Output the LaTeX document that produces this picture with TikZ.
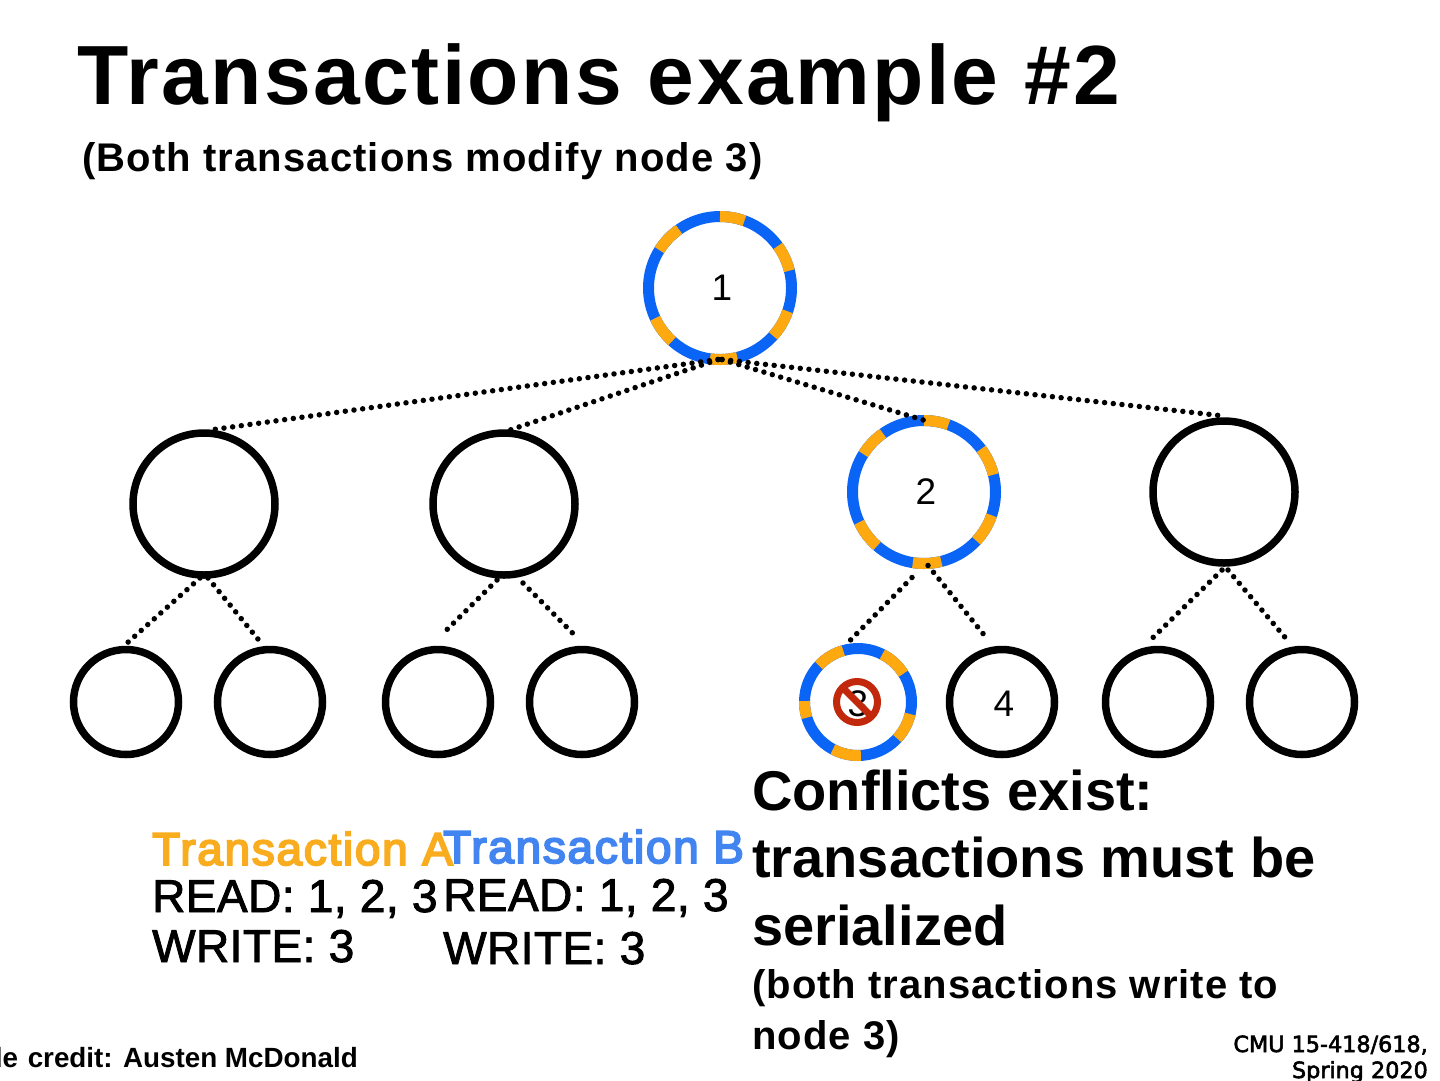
\documentclass[tikz,border=0pt]{standalone}
\usepackage{fontspec}
\setmainfont{Liberation Sans}
\newfontfamily\cmufont[FakeBold=2.5]{DejaVu Sans}
\definecolor{ringblue}{HTML}{0A64F5}
\definecolor{ringorange}{HTML}{FDA90F}
\definecolor{txta}{HTML}{F9AD1E}
\definecolor{txtb}{HTML}{4285F0}
\definecolor{nored}{HTML}{C1280C}
\newcommand{\fsz}[1]{\fontsize{#1}{#1}\selectfont}
\newcommand{\spc}[1]{\addfontfeature{LetterSpace=#1}}
\newcommand{\spb}[1]{\addfontfeature{LetterSpace=#1,FakeBold=2}}
\newcommand{\spt}[1]{\addfontfeature{LetterSpace=#1,FakeBold=4}}
\tikzset{
  bigc/.style={circle,draw=black,line width=7.5pt,outer sep=0pt,minimum size=142pt,inner sep=0pt},
  smallc/.style={circle,draw=black,line width=7.5pt,outer sep=0pt,minimum size=105pt,inner sep=0pt},
  ringc/.style={circle,draw=ringblue,line width=11pt,outer sep=0pt,inner sep=0pt},
  dotline/.style={line width=5.5pt,line cap=round,dash pattern=on 0pt off 8.75pt},
  lbl/.style={inner sep=0pt,anchor=center,font=\fsz{37}},
  txt/.style={inner sep=0pt,anchor=base west},
  orarc/.style={ringorange,line width=11pt,x=1pt,y=1pt},
}
\begin{document}
\begin{tikzpicture}[x=1pt,y=-1pt]
\useasboundingbox (0,0) rectangle (1440,1080);
\fill[white] (0,0) rectangle (1440,1080);
% nodes
\node[ringc,minimum size=143pt] (r1) at (720,288) {};
\node[ringc,minimum size=143pt] (r2) at (924,492) {};
\node[ringc,minimum size=107pt] (r3) at (858,702) {};
\node[bigc] (b1) at (204,504) {};
\node[bigc] (b2) at (504,504) {};
\node[bigc] (b4) at (1224,492) {};
\node[smallc] (s1) at (126,702) {};
\node[smallc] (s2) at (270,702) {};
\node[smallc] (s3) at (438,702) {};
\node[smallc] (s4) at (582,702) {};
\node[smallc] (s6) at (1002,702) {};
\node[smallc] (s7) at (1158,702) {};
\node[smallc] (s8) at (1302,702) {};
% orange ring segments
\foreach \c/\rr/\list in {r1/71.5/{70/90,14/36,-42/-19,-98/-76,-155/-132,125/148},
                          r2/71.5/{70/90,14/37,-43/-19,-99/-76,-155/-131,125/148},
                          r3/53.5/{32/63,-43/-13,-118/-87,-181/-163,106/137}}{
  \foreach \a/\b in \list {
    \draw[orarc] (\c.center) ++(\a:\rr) arc[start angle=\a,end angle=\b,radius=\rr];
  }
}
% connectors
\draw[dotline] ([xshift=-2pt]r1.south) -- ([xshift=6pt,yshift=3pt]b1.north);
\draw[dotline] ([xshift=-2pt]r1.south) -- ([xshift=6pt,yshift=3pt]b2.north);
\draw[dotline] ([xshift=2pt]r1.south) -- ([xshift=1pt]r2.north);
\draw[dotline] ([xshift=2pt]r1.south) -- ([yshift=5pt]b4.north);
\draw[dotline] ([xshift=-4pt,yshift=-3pt]b1.south) -- ([yshift=5.5pt]s1.north);
\draw[dotline] ([xshift=4pt,yshift=-3pt]b1.south) -- ([xshift=-8pt,yshift=5.5pt]s2.north);
\draw[dotline] ([xshift=-7pt,yshift=-5pt]b2.south) -- ([xshift=4pt,yshift=15pt]s3.north);
\draw[dotline] ([xshift=19pt,yshift=-8pt]b2.south) -- ([xshift=-4pt,yshift=11pt]s4.north);
\draw[dotline] ([xshift=-12pt,yshift=-14pt]r2.south) -- ([xshift=-8pt,yshift=8pt]r3.north);
\draw[dotline] ([xshift=4pt,yshift=-2pt]r2.south) -- ([xshift=-15pt,yshift=11pt]s6.north);
\draw[dotline] ([xshift=-2pt,yshift=-7pt]b4.south) -- ([xshift=-6pt,yshift=11pt]s7.north);
\draw[dotline] ([xshift=4pt,yshift=-7pt]b4.south) -- ([xshift=-16pt,yshift=11pt]s8.north);
% ring labels
\node[lbl] (l1) at (722,288) {1};
\node[lbl] (l2) at (926,492) {2};
\node[lbl] (l3) at (858,704) {3};
\node[lbl] (l4) at (1004,704) {4};
% no symbol
\node[circle,draw=nored,line width=7pt,outer sep=0pt,minimum size=41pt,inner sep=0pt] (no) at (857,702) {};
\draw[nored,line width=7pt] (no.north west) -- (no.south east);
% texts
\node[txt,font=\bfseries\fsz{84}\spc{2.9}] (title) at (77,104) {Transactions example \#2};
\node[txt,font=\bfseries\fsz{40}\spc{2.8}] (sub) at (82,171) {(Both transactions modify node 3)};
\node[txt,font=\fsz{46}\spt{3.7},text=txta] (ta) at (152,865) {Transaction A};
\node[txt,font=\fsz{46}\spb{1}] (ta1) at (152,912) {READ: 1, 2, 3};
\node[txt,font=\fsz{46}\spb{1}] (ta2) at (152,962) {WRITE: 3};
\node[txt,font=\fsz{46}\spt{3.7},text=txtb] (tb) at (443,863) {Transaction B};
\node[txt,font=\fsz{46}\spb{1}] (tb1) at (443,911) {READ: 1, 2, 3};
\node[txt,font=\fsz{46}\spb{1}] (tb2) at (443,964) {WRITE: 3};
\node[txt,font=\bfseries\fsz{56}] (c1) at (752,810) {Conflicts exist:};
\node[txt,font=\bfseries\fsz{56}] (c2) at (752,877) {transactions must be};
\node[txt,font=\bfseries\fsz{56}] (c3) at (752,945) {serialized};
\node[txt,font=\bfseries\fsz{40}\spc{2.6}] (c4) at (752,998) {(both transactions write to};
\node[txt,font=\bfseries\fsz{40}\spc{2.6}] (c5) at (752,1049) {node 3)};
\node[inner sep=0pt,anchor=base east,font=\bfseries\fsz{27.8}] (credit) at (358,1067) {Slide\hspace{2pt} credit: Austen McDonald};
\node[inner sep=0pt,anchor=base east,font=\cmufont\fsz{22.3}] (cmu1) at (1428,1052) {CMU 15-418/618,};
\node[inner sep=0pt,anchor=base east,font=\cmufont\fsz{22.3}] (cmu2) at (1428,1078) {Spring 2020};
\end{tikzpicture}
\end{document}
